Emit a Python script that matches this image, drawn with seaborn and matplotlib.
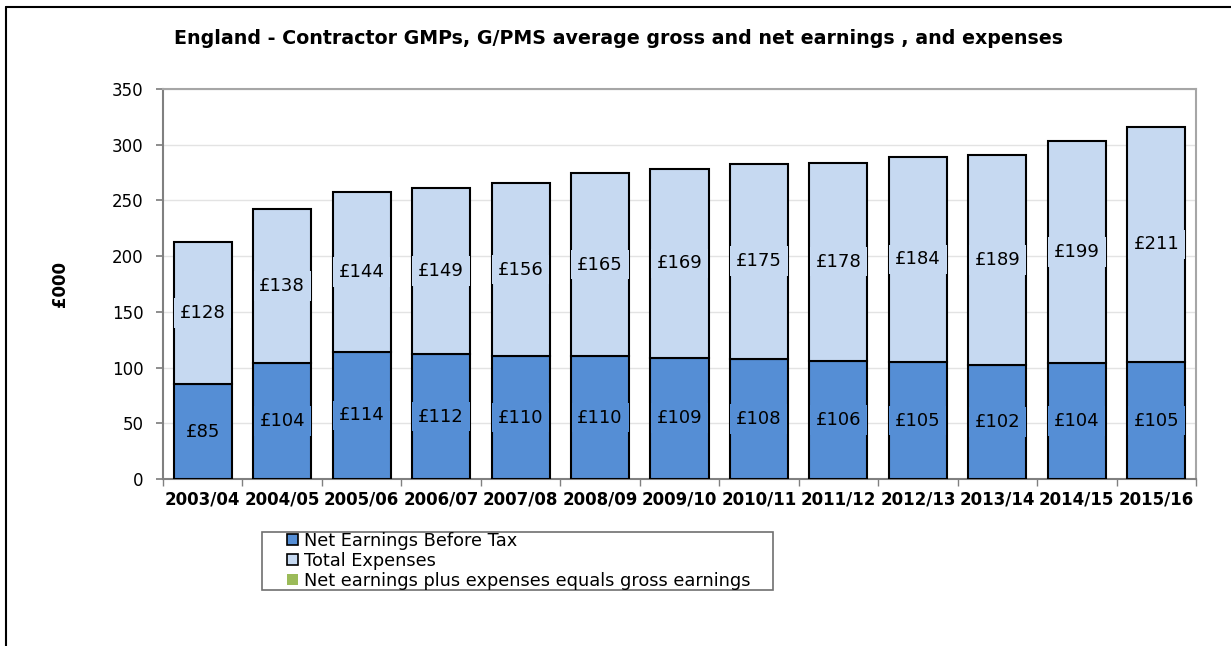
import matplotlib
matplotlib.use("Agg")
import matplotlib.pyplot as plt
import seaborn as sns
import numpy as np
from matplotlib.lines import Line2D
from matplotlib.patches import Patch, Rectangle

years = ["2003/04", "2004/05", "2005/06", "2006/07", "2007/08", "2008/09", "2009/10",
         "2010/11", "2011/12", "2012/13", "2013/14", "2014/15", "2015/16"]
net_earnings = [85, 104, 114, 112, 110, 110, 109, 108, 106, 105, 102, 104, 105]
total_expenses = [128, 138, 144, 149, 156, 165, 169, 175, 178, 184, 189, 199, 211]

title = "England - Contractor GMPs, G/PMS average gross and net earnings , and expenses"
ylabel = "£000"
legend_labels = ["Net Earnings Before Tax", "Total Expenses",
                 "Net earnings plus expenses equals gross earnings"]

c_net = "#558ED5"
c_exp = "#C6D9F1"
c_green = "#9BBB59"

sns.set_theme(style="white")
plt.rcParams["font.family"] = ["DejaVu Sans"]
plt.rcParams.update({"text.color": "black", "axes.labelcolor": "black",
                     "xtick.color": "black", "ytick.color": "black"})

W, H = 1231, 646
fig = plt.figure(figsize=(W / 100, H / 100), dpi=100)
ax = fig.add_axes([163 / W, 1 - 479 / H, (1196 - 163) / W, (479 - 89) / H])

sns.barplot(x=years, y=net_earnings, color=c_net, edgecolor="black", linewidth=1.5,
            width=0.73, saturation=1, ax=ax, zorder=3)
sns.barplot(x=years, y=total_expenses, bottom=net_earnings, color=c_exp, edgecolor="black",
            linewidth=1.5, width=0.73, saturation=1, ax=ax, zorder=3)

for i, (n, e) in enumerate(zip(net_earnings, total_expenses)):
    ax.text(i, n / 2, f"£{n}", ha="center", va="center", fontsize=13, color="black", zorder=5,
            bbox=dict(boxstyle="square,pad=0.32", facecolor=c_net, edgecolor="none"))
    ax.text(i, n + e / 2, f"£{e}", ha="center", va="center", fontsize=13, color="black", zorder=5,
            bbox=dict(boxstyle="square,pad=0.32", facecolor=c_exp, edgecolor="none"))

ax.set_ylim(0, 350)
ax.set_xlim(-0.5, len(years) - 0.5)
ax.set_yticks(np.arange(0, 351, 50))
ax.yaxis.grid(True, color="#E3E3E3", linewidth=1, zorder=0)
ax.set_axisbelow(True)
ax.tick_params(axis="y", labelsize=12, length=5, color="#808080", left=True, pad=9)
ax.set_xticks(range(len(years)))
ax.set_xticklabels(years, fontsize=12, fontweight="bold")
ax.set_xticks(np.arange(-0.5, len(years), 1), minor=True)
ax.tick_params(axis="x", which="major", length=0, pad=8)
ax.tick_params(axis="x", which="minor", length=5, color="#808080", bottom=True)
ax.set_xlabel("")
ax.set_ylabel(ylabel, fontsize=12, fontweight="bold", labelpad=31)

for s in ["left", "bottom"]:
    ax.spines[s].set_color("#808080")
    ax.spines[s].set_linewidth(1.5)
for s in ["top", "right"]:
    ax.spines[s].set_color("#A6A6A6")
    ax.spines[s].set_linewidth(1.5)

fig.text(618 / W, 1 - 38 / H, title, ha="center", va="center", fontsize=13.7, fontweight="bold")

# legend frame
fig.add_artist(Rectangle((262 / W, 1 - 590 / H), (773 - 262) / W, (590 - 532) / H,
                         transform=fig.transFigure, facecolor="white", edgecolor="#707070",
                         linewidth=1.2, zorder=1))
handles = [Patch(facecolor=c_net, edgecolor="black", linewidth=1.2),
           Patch(facecolor=c_exp, edgecolor="black", linewidth=1.2),
           Patch(facecolor=c_green, edgecolor="none")]
leg = fig.legend(handles, legend_labels, loc="upper left",
                 bbox_to_anchor=(287 / W, 1 - 532 / H), fontsize=12.8,
                 frameon=False, borderpad=0.0, labelspacing=0.1,
                 handlelength=0.6, handleheight=0.6, handletextpad=0.35, borderaxespad=0)
leg.set_zorder(2)

fig.add_artist(Line2D([6 / W, 6 / W], [0, 1 - 7 / H], transform=fig.transFigure,
                      color="black", linewidth=1.5))
fig.add_artist(Line2D([6 / W, 1], [1 - 7 / H, 1 - 7 / H], transform=fig.transFigure,
                      color="black", linewidth=1.5))

fig.savefig("out.png", dpi=100)
